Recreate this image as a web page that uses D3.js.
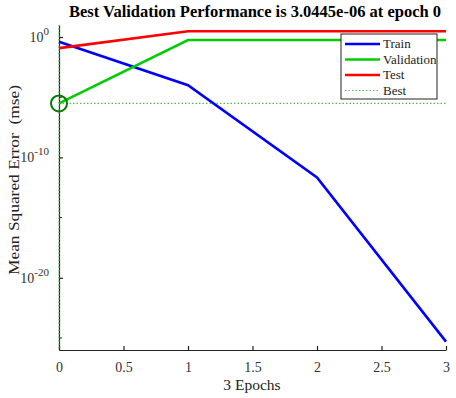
<!doctype html>
<html lang="en">
<head>
<meta charset="utf-8">
<title>Best Validation Performance</title>
<script src="https://d3js.org/d3.v7.min.js"></script>
<style>
body { margin: 0; background: #fff; }
svg { display: block; }
</style>
</head>
<body>
<svg width="456" height="398" font-family="Liberation Serif"></svg>
<script>
const epochs = [0, 1, 2, 3];
const train = [0.4, 1e-4, 2.2e-12, 5e-26];
const validation = [3.0445e-6, 0.56, 0.56, 0.56];
const test = [0.12, 3.0, 3.0, 3.0];
const bestEpoch = 0;
const bestValue = 3.0445e-6;
const xTicks = [0, 0.5, 1, 1.5, 2, 2.5, 3];
const yTicks = [1e0, 1e-10, 1e-20];
const yMinorTicks = [1e-5, 1e-15, 1e-25];

const FONT = 'Liberation Serif';
const svg = d3.select('svg');
const plotLeft = 59, plotRight = 446, plotTop = 25, plotBottom = 350;

const x = d3.scaleLinear().domain([0, 3]).range([plotLeft, plotRight]);
const y = d3.scaleLog().domain([1e-26, 1e1]).range([plotBottom, plotTop]);

// axes (ticks point inward, like MATLAB)
const xAxis = svg.append('g')
  .attr('transform', `translate(0,${plotBottom})`)
  .call(d3.axisBottom(x).tickValues(xTicks).tickSizeInner(-4).tickSizeOuter(0).tickPadding(12)
    .tickFormat(d => d));

const yAxis = svg.append('g')
  .attr('transform', `translate(${plotLeft},0)`)
  .call(d3.axisLeft(y).tickValues(yTicks).tickSizeInner(-4).tickSizeOuter(0).tickPadding(10)
    .tickFormat(() => ''));

yAxis.selectAll('.tick text').each(function(d) {
  const e = Math.round(Math.log10(d));
  const t = d3.select(this);
  t.append('tspan').text('10');
  t.append('tspan').attr('dy', -7).attr('font-size', 11).text(e);
});

[xAxis, yAxis].forEach(g => {
  g.attr('font-family', FONT).attr('font-size', 14);
  g.selectAll('.tick text').attr('fill', '#333');
  g.selectAll('.domain, .tick line').attr('stroke', '#222').attr('stroke-width', 1.2);
});

svg.append('g').selectAll('line').data(yMinorTicks).join('line')
  .attr('x1', plotLeft).attr('x2', plotLeft + 3)
  .attr('y1', d => y(d)).attr('y2', d => y(d))
  .attr('stroke', '#222');

// best lines
svg.append('line')
  .attr('x1', x(0)).attr('x2', x(3))
  .attr('y1', y(bestValue)).attr('y2', y(bestValue))
  .attr('stroke', '#55bb55').attr('stroke-width', 1.2).attr('stroke-dasharray', '1.5 2');
svg.append('line')
  .attr('x1', x(bestEpoch)).attr('x2', x(bestEpoch))
  .attr('y1', y(1e1)).attr('y2', y(1e-26))
  .attr('stroke', '#55bb55').attr('stroke-width', 1.2).attr('stroke-dasharray', '1.5 2');

const line = d3.line().x((d, i) => x(epochs[i])).y(d => y(d));
const series = [
  { name: 'Train', values: train, color: '#0000ff' },
  { name: 'Validation', values: validation, color: '#00cc00' },
  { name: 'Test', values: test, color: '#ff0000' }
];

svg.append('g').selectAll('path').data(series).join('path')
  .attr('d', d => line(d.values))
  .attr('fill', 'none')
  .attr('stroke', d => d.color)
  .attr('stroke-width', 2.6);

svg.append('circle')
  .attr('cx', x(bestEpoch)).attr('cy', y(bestValue)).attr('r', 8)
  .attr('fill', 'none').attr('stroke', '#007a00').attr('stroke-width', 2);

// title and labels
svg.append('text')
  .attr('x', 255).attr('y', 17)
  .attr('text-anchor', 'middle').attr('font-family', FONT)
  .attr('font-weight', 'bold').attr('font-size', 16.5)
  .text('Best Validation Performance is 3.0445e-06 at epoch 0');

svg.append('text')
  .attr('x', 252).attr('y', 390)
  .attr('text-anchor', 'middle').attr('font-family', FONT)
  .attr('font-size', 15.5).attr('fill', '#222')
  .text('3 Epochs');

// the original label is a tall, narrow face: stretch it along its length
svg.append('text')
  .attr('transform', 'translate(19,180) rotate(-90)')
  .attr('text-anchor', 'middle').attr('font-family', FONT)
  .attr('font-size', 15).attr('fill', '#222')
  .attr('textLength', 190).attr('lengthAdjust', 'spacingAndGlyphs')
  .style('white-space', 'pre')
  .text('Mean Squared Error  (mse)');

// legend
const legend = svg.append('g').attr('transform', 'translate(341,34)');
legend.append('rect')
  .attr('width', 96).attr('height', 65)
  .attr('fill', '#fff').attr('stroke', '#222').attr('stroke-width', 1);
const legendItems = series.concat([{ name: 'Best', color: '#55bb55', dotted: true }]);
const li = legend.selectAll('g.item').data(legendItems).join('g')
  .attr('class', 'item')
  .attr('transform', (d, i) => `translate(0,${10 + i * 15.5})`);
li.append('line')
  .attr('x1', 4).attr('x2', 39)
  .attr('stroke', d => d.color)
  .attr('stroke-width', d => d.dotted ? 1.2 : 2.6)
  .attr('stroke-dasharray', d => d.dotted ? '1.5 2' : null);
li.append('text')
  .attr('x', 42).attr('y', 4)
  .attr('font-family', FONT)
  .attr('font-size', 13).attr('fill', '#222')
  .text(d => d.name);
</script>
</body>
</html>
